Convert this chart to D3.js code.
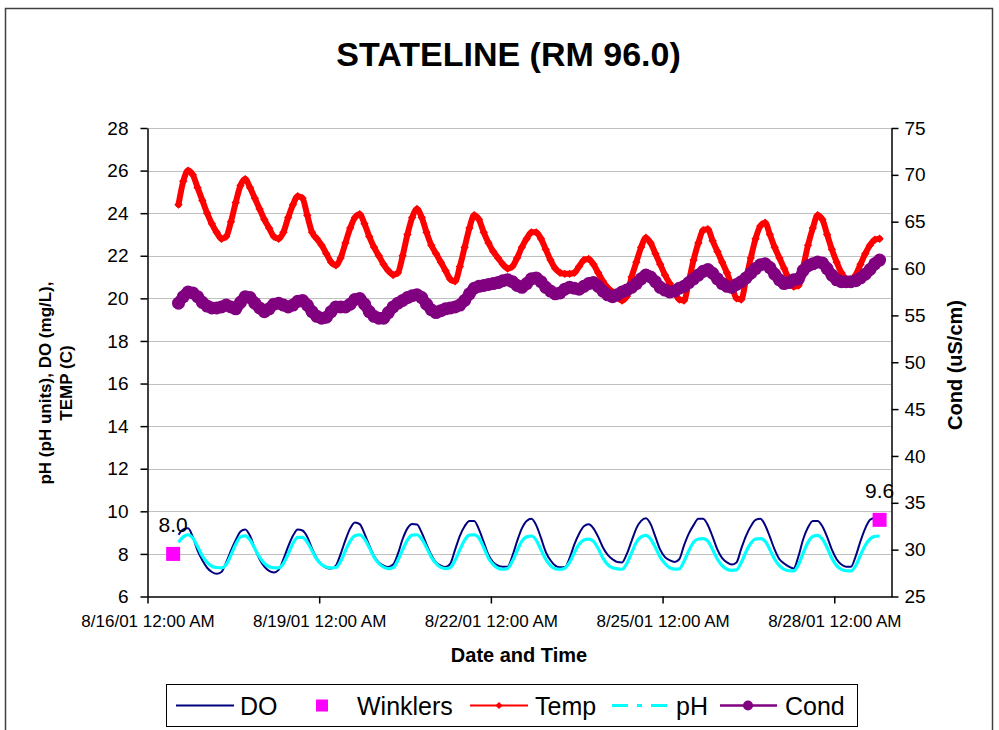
<!DOCTYPE html>
<html>
<head>
<meta charset="utf-8">
<script src="https://cdn.jsdelivr.net/npm/d3@7"></script>
<style>
  html, body { margin: 0; padding: 0; background: #fff; }
  svg { display: block; font-family: "Liberation Sans", Arial, sans-serif; }
</style>
</head>
<body>
<svg id="chart" width="999" height="730"></svg>
<script>
// Sonde readings every 2 hours, starting 8/16/01 1:00 PM
const seriesStart = new Date(2001, 7, 16, 13, 0);
const stepHours = 2;

// Dissolved oxygen (mg/L)
const doValues = [
  8.9, 9.15, 9.2, 8.8, 8.15, 7.7,                                   // 8/16
  7.35, 7.15, 7.07, 7.15, 7.6, 8.15, 8.65, 9.05, 9.15, 8.85, 8.25, 7.75, // 8/17
  7.4, 7.2, 7.13, 7.25, 7.75, 8.35, 8.85, 9.15, 9.1, 8.8, 8.25, 7.8,     // 8/18
  7.5, 7.35, 7.31, 7.45, 8.0, 8.65, 9.2, 9.48, 9.4, 8.95, 8.4, 7.9,      // 8/19
  7.6, 7.45, 7.39, 7.5, 8.0, 8.7, 9.2, 9.4, 9.38, 9.0, 8.45, 7.95,       // 8/20
  7.6, 7.45, 7.39, 7.55, 8.2, 8.85, 9.3, 9.55, 9.55, 9.15, 8.55, 7.95,   // 8/21
  7.6, 7.45, 7.4, 7.4, 7.9, 8.6, 9.2, 9.55, 9.65, 9.35, 8.75, 8.1,       // 8/22
  7.7, 7.45, 7.37, 7.38, 7.8, 8.45, 8.95, 9.3, 9.39, 9.2, 8.8, 8.3,      // 8/23
  7.95, 7.75, 7.62, 7.6, 8.0, 8.6, 9.2, 9.55, 9.68, 9.4, 8.8, 8.2,       // 8/24
  7.85, 7.7, 7.62, 7.75, 8.4, 8.95, 9.35, 9.65, 9.65, 9.35, 8.8, 8.2,    // 8/25
  7.8, 7.6, 7.5, 7.6, 8.25, 8.85, 9.3, 9.6, 9.65, 9.35, 8.8, 8.2,        // 8/26
  7.75, 7.55, 7.4, 7.32, 7.9, 8.7, 9.25, 9.55, 9.55, 9.3, 8.8, 8.2,      // 8/27
  7.75, 7.5, 7.4, 7.4, 7.9, 8.6, 9.2, 9.6, 9.7, 9.75                     // 8/28
];

// pH (pH units)
const phValues = [
  8.55, 8.8, 8.9, 8.75, 8.35, 7.9,                                        // 8/16
  7.6, 7.42, 7.36, 7.34, 7.5, 7.95, 8.45, 8.8, 8.85, 8.65, 8.25, 7.85,    // 8/17
  7.55, 7.4, 7.35, 7.34, 7.55, 8.0, 8.5, 8.78, 8.78, 8.55, 8.15, 7.75,    // 8/18
  7.5, 7.38, 7.34, 7.36, 7.65, 8.15, 8.6, 8.85, 8.9, 8.7, 8.3, 7.85,      // 8/19
  7.55, 7.38, 7.31, 7.35, 7.7, 8.2, 8.65, 8.88, 8.9, 8.7, 8.3, 7.85,      // 8/20
  7.55, 7.37, 7.31, 7.36, 7.7, 8.2, 8.65, 8.88, 8.9, 8.75, 8.3, 7.8,      // 8/21
  7.5, 7.33, 7.28, 7.32, 7.65, 8.15, 8.6, 8.8, 8.84, 8.65, 8.2, 7.75,     // 8/22
  7.45, 7.3, 7.28, 7.33, 7.6, 8.05, 8.45, 8.65, 8.69, 8.6, 8.25, 7.8,     // 8/23
  7.5, 7.35, 7.3, 7.28, 7.55, 8.05, 8.55, 8.8, 8.87, 8.7, 8.3, 7.85,      // 8/24
  7.55, 7.35, 7.29, 7.3, 7.65, 8.15, 8.55, 8.7, 8.72, 8.6, 8.2, 7.75,     // 8/25
  7.45, 7.28, 7.23, 7.25, 7.6, 8.1, 8.5, 8.7, 8.72, 8.6, 8.2, 7.75,       // 8/26
  7.45, 7.27, 7.21, 7.2, 7.5, 8.05, 8.55, 8.82, 8.87, 8.7, 8.3, 7.8,      // 8/27
  7.45, 7.27, 7.21, 7.2, 7.45, 7.95, 8.4, 8.7, 8.82, 8.84                 // 8/28
];

// Water temperature (C)
const tempValues = [
  24.4, 25.5, 26.0, 25.8, 25.2, 24.6,                                          // 8/16
  24.0, 23.5, 23.1, 22.8, 22.9, 23.6, 24.5, 25.3, 25.6, 25.2, 24.7, 24.2,      // 8/17
  23.7, 23.3, 22.9, 22.8, 23.1, 23.8, 24.4, 24.8, 24.7, 23.9, 23.1, 22.8,      // 8/18
  22.5, 22.1, 21.7, 21.55, 21.9, 22.6, 23.3, 23.8, 23.95, 23.5, 22.9, 22.4,    // 8/19
  22.0, 21.6, 21.3, 21.1, 21.2, 22.0, 23.0, 23.8, 24.2, 23.8, 23.1, 22.5,      // 8/20
  22.1, 21.7, 21.3, 20.9, 20.8, 21.5, 22.4, 23.3, 23.9, 23.7, 23.1, 22.6,      // 8/21
  22.2, 21.9, 21.6, 21.4, 21.5, 21.9, 22.4, 22.8, 23.1, 23.1, 22.8, 22.3,      // 8/22
  21.8, 21.4, 21.2, 21.15, 21.15, 21.2, 21.5, 21.8, 21.85, 21.6, 21.2, 20.8,   // 8/23
  20.5, 20.3, 20.05, 19.9, 20.1, 21.0, 21.7, 22.4, 22.85, 22.6, 22.1, 21.6,    // 8/24
  21.1, 20.7, 20.3, 19.95, 19.9, 20.8, 21.8, 22.6, 23.2, 23.25, 22.7, 22.2,    // 8/25
  21.7, 21.2, 20.6, 20.0, 19.95, 20.9, 21.9, 22.8, 23.4, 23.55, 23.0, 22.4,    // 8/26
  21.9, 21.4, 20.9, 20.55, 20.6, 21.5, 22.5, 23.3, 23.9, 23.7, 23.0, 22.3,     // 8/27
  21.7, 21.2, 20.9, 20.8, 21.1, 21.6, 22.1, 22.5, 22.75, 22.8                  // 8/28
];

// Specific conductance (uS/cm), right axis
const condValues = [
  56.3, 57.0, 57.5, 57.4, 57.0, 56.4,                                          // 8/16
  56.0, 55.8, 55.8, 55.9, 56.1, 55.9, 55.7, 56.4, 57.0, 56.9, 56.3, 55.8,      // 8/17
  55.4, 55.7, 56.2, 56.3, 56.1, 55.9, 56.1, 56.5, 56.6, 56.1, 55.4, 54.9,      // 8/18
  54.7, 54.8, 55.4, 55.9, 55.9, 55.9, 56.2, 56.7, 56.8, 56.2, 55.4, 54.9,      // 8/19
  54.7, 54.7, 55.3, 55.9, 56.3, 56.6, 56.9, 57.1, 57.2, 56.9, 56.2, 55.6,      // 8/20
  55.3, 55.5, 55.7, 55.8, 55.9, 56.1, 56.6, 57.3, 57.9, 58.1, 58.2, 58.3,      // 8/21
  58.4, 58.5, 58.7, 58.8, 58.6, 58.2, 58.0, 58.4, 58.9, 59.0, 58.6, 58.0,      // 8/22
  57.6, 57.3, 57.4, 57.8, 58.0, 57.9, 57.8, 58.1, 58.4, 58.5, 58.1, 57.6,      // 8/23
  57.2, 57.0, 57.2, 57.5, 57.7, 58.0, 58.4, 58.9, 59.3, 59.1, 58.6, 58.0,      // 8/24
  57.7, 57.5, 57.6, 57.9, 58.1, 58.5, 58.9, 59.3, 59.7, 59.9, 59.5, 58.9,      // 8/25
  58.4, 58.1, 58.0, 58.3, 58.6, 59.0, 59.5, 60.0, 60.4, 60.5, 60.1, 59.4,      // 8/26
  58.8, 58.4, 58.5, 58.8, 58.9, 59.8, 60.3, 60.5, 60.7, 60.6, 60.0, 59.3,      // 8/27
  58.8, 58.6, 58.6, 58.6, 58.7, 59.0, 59.4, 59.9, 60.5, 60.9                   // 8/28
];

// Winkler titration check samples (mg/L)
const winklerTimes = [new Date(2001, 7, 16, 10, 45), new Date(2001, 7, 28, 19, 0)];
const winklerValues = [8.0, 9.6];

// Axis ticks
const xTickDates = [
  new Date(2001, 7, 16), new Date(2001, 7, 19), new Date(2001, 7, 22),
  new Date(2001, 7, 25), new Date(2001, 7, 28)
];
const leftTicks = [6, 8, 10, 12, 14, 16, 18, 20, 22, 24, 26, 28];
const rightTicks = [25, 30, 35, 40, 45, 50, 55, 60, 65, 70, 75];

const legendItems = ["DO", "Winklers", "Temp", "pH", "Cond"];

// ---------------------------------------------------------------
const svg = d3.select("#chart");
const plot = { left: 147.5, right: 891.5, top: 128, bottom: 596.5 };

const x = d3.scaleTime()
  .domain([new Date(2001, 7, 16), new Date(2001, 7, 29)])
  .range([plot.left, plot.right]);
const yL = d3.scaleLinear().domain([6, 28]).range([plot.bottom, plot.top]);
const yR = d3.scaleLinear().domain([25, 75]).range([plot.bottom, plot.top]);

const timeAt = i => new Date(seriesStart.getTime() + i * stepHours * 3600 * 1000);
const toPoints = arr => arr.map((v, i) => ({ t: timeAt(i), v }));

// Outer chart frame
svg.append("rect")
  .attr("x", 5.5).attr("y", 8.5).attr("width", 987).attr("height", 740)
  .attr("fill", "none").attr("stroke", "#404040").attr("stroke-width", 1.5);

// Title
svg.append("text")
  .attr("x", 508.5).attr("y", 66)
  .attr("text-anchor", "middle")
  .attr("font-size", 34).attr("font-weight", "bold")
  .text("STATELINE (RM 96.0)");

// Gridlines
svg.append("g").selectAll("line")
  .data(leftTicks.filter(d => d !== 6))
  .join("line")
  .attr("x1", plot.left).attr("x2", plot.right)
  .attr("y1", d => Math.round(yL(d)) + 0.5).attr("y2", d => Math.round(yL(d)) + 0.5)
  .attr("stroke", "#c0c0c0").attr("stroke-width", 1);

// Axes
const fmt = d3.timeFormat("%-m/%-d/%y %I:%M %p");
const gx = svg.append("g")
  .attr("transform", `translate(0,${plot.bottom})`)
  .call(d3.axisBottom(x).tickValues(xTickDates).tickFormat(fmt)
    .tickSize(7).tickSizeOuter(0).tickPadding(11));
gx.selectAll("text").attr("font-size", 17);

const gl = svg.append("g")
  .attr("transform", `translate(${plot.left},0)`)
  .call(d3.axisLeft(yL).tickValues(leftTicks).tickFormat(d3.format("d"))
    .tickSize(7).tickSizeOuter(0).tickPadding(12));
gl.selectAll("text").attr("font-size", 19);

const gr = svg.append("g")
  .attr("transform", `translate(${plot.right},0)`)
  .call(d3.axisRight(yR).tickValues(rightTicks).tickFormat(d3.format("d"))
    .tickSize(7).tickSizeOuter(0).tickPadding(6));
gr.selectAll("text").attr("font-size", 19);

[gx, gl, gr].forEach(g => {
  g.attr("font-family", null);
  g.selectAll("text").attr("fill", "#000");
  g.selectAll("line, path").attr("stroke", "#000").attr("stroke-width", 1.5);
});

// Axis titles
svg.append("text")
  .attr("transform", "translate(45,383) rotate(-90)")
  .attr("text-anchor", "middle").attr("dominant-baseline", "central")
  .attr("font-size", 17).attr("font-weight", "bold")
  .text("pH (pH units), DO (mg/L),");
svg.append("text")
  .attr("transform", "translate(66,383) rotate(-90)")
  .attr("text-anchor", "middle").attr("dominant-baseline", "central")
  .attr("font-size", 17).attr("font-weight", "bold")
  .text("TEMP (C)");
svg.append("text")
  .attr("transform", "translate(955,365) rotate(-90)")
  .attr("text-anchor", "middle").attr("dominant-baseline", "central")
  .attr("font-size", 20).attr("font-weight", "bold")
  .text("Cond (uS/cm)");
svg.append("text")
  .attr("x", 519).attr("y", 662)
  .attr("text-anchor", "middle")
  .attr("font-size", 20).attr("font-weight", "bold")
  .text("Date and Time");

// Series
const lineL = d3.line().x(d => x(d.t)).y(d => yL(d.v)).curve(d3.curveMonotoneX);
const lineR = d3.line().x(d => x(d.t)).y(d => yR(d.v)).curve(d3.curveMonotoneX);
const diamond = "M0,-4.2L4.2,0L0,4.2L-4.2,0Z";

const doPts = toPoints(doValues);
const phPts = toPoints(phValues);
const tempPts = toPoints(tempValues);
const condPts = toPoints(condValues);

// DO
svg.append("path").datum(doPts).attr("d", lineL)
  .attr("fill", "none").attr("stroke", "#000080").attr("stroke-width", 2)
  .attr("stroke-linejoin", "round");

// Winklers
const winkPts = winklerTimes.map((t, i) => ({ t, v: winklerValues[i] }));
svg.append("g").selectAll("rect").data(winkPts).join("rect")
  .attr("x", d => x(d.t) - 7).attr("y", d => yL(d.v) - 7)
  .attr("width", 14).attr("height", 14).attr("fill", "#ff00ff");
svg.append("g").selectAll("text").data(winkPts).join("text")
  .attr("x", d => x(d.t)).attr("y", d => yL(d.v) - 22)
  .attr("text-anchor", "middle").attr("font-size", 21)
  .text(d => d3.format(".1f")(d.v));

// Temp: dense diamond markers along a thick line
svg.append("path").datum(tempPts).attr("d", lineL)
  .attr("fill", "none").attr("stroke", "#ff0000").attr("stroke-width", 6)
  .attr("stroke-linejoin", "round").attr("stroke-linecap", "round");
svg.append("g").selectAll("path").data(tempPts).join("path")
  .attr("transform", d => `translate(${x(d.t)},${yL(d.v)})`)
  .attr("d", diamond).attr("fill", "#ff0000");

// pH
svg.append("path").datum(phPts).attr("d", lineL)
  .attr("fill", "none").attr("stroke", "#00ffff").attr("stroke-width", 3.2)
  .attr("stroke-linejoin", "round");

// Cond: dense round markers along a thick line
svg.append("path").datum(condPts).attr("d", lineR)
  .attr("fill", "none").attr("stroke", "#800080").attr("stroke-width", 11)
  .attr("stroke-linejoin", "round").attr("stroke-linecap", "round");
svg.append("g").selectAll("circle").data(condPts).join("circle")
  .attr("cx", d => x(d.t)).attr("cy", d => yR(d.v)).attr("r", 6.5)
  .attr("fill", "#800080");

// Legend
const lg = svg.append("g");
lg.append("rect").attr("x", 166.5).attr("y", 684.5).attr("width", 691).attr("height", 42)
  .attr("fill", "#fff").attr("stroke", "#000").attr("stroke-width", 1);
const ly = 705.5;
const legendText = (xPos, label) => lg.append("text")
  .attr("x", xPos).attr("y", ly + 9).attr("font-size", 25).text(label);
// DO
lg.append("line").attr("x1", 176).attr("x2", 234).attr("y1", ly).attr("y2", ly)
  .attr("stroke", "#000080").attr("stroke-width", 2);
legendText(240, legendItems[0]);
// Winklers
lg.append("rect").attr("x", 316).attr("y", ly - 6).attr("width", 12).attr("height", 12)
  .attr("fill", "#ff00ff");
legendText(357, legendItems[1]);
// Temp
lg.append("line").attr("x1", 470).attr("x2", 528).attr("y1", ly).attr("y2", ly)
  .attr("stroke", "#ff0000").attr("stroke-width", 2);
lg.append("path").attr("transform", `translate(499,${ly}) scale(0.85)`).attr("d", diamond).attr("fill", "#ff0000");
legendText(535, legendItems[2]);
// pH
lg.append("line").attr("x1", 612).attr("x2", 668).attr("y1", ly).attr("y2", ly)
  .attr("stroke", "#00ffff").attr("stroke-width", 3).attr("stroke-dasharray", "16,9,5,9");
legendText(676, legendItems[3]);
// Cond
lg.append("line").attr("x1", 720).attr("x2", 777).attr("y1", ly).attr("y2", ly)
  .attr("stroke", "#800080").attr("stroke-width", 2.5);
lg.append("circle").attr("cx", 748).attr("cy", ly).attr("r", 5).attr("fill", "#800080");
legendText(785, legendItems[4]);
</script>
</body>
</html>
